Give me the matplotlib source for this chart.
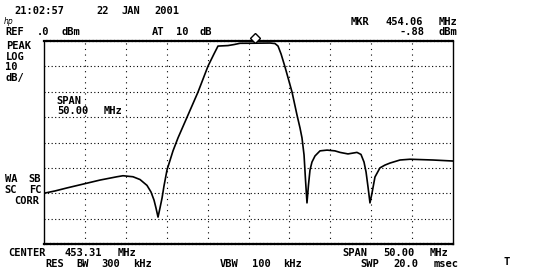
import matplotlib
matplotlib.use("Agg")
import matplotlib.pyplot as plt
import matplotlib.transforms as mtransforms

center_mhz = 453.31
span_mhz = 50.0
ref_dbm = 0.0
db_per_div = 10
n_ydiv = 8
mkr_freq = 454.06
mkr_level = -0.88

freq_mhz = [428.31, 429.65, 431.12, 433.08, 435.16, 437.23, 437.97, 439.19, 440.05, 440.90,
            441.39, 441.76, 442.00, 442.25, 442.49, 442.74, 442.98, 443.35, 444.08, 444.69,
            445.91, 447.14, 448.36, 449.09, 449.58, 450.80, 451.54, 452.27, 454.10, 455.94,
            456.55, 456.92, 457.29, 457.77, 458.63, 459.24, 459.61, 459.85, 460.10, 460.28,
            460.46, 460.64, 460.83, 461.07, 461.44, 462.05, 462.91, 463.88, 464.50, 465.47,
            466.57, 467.06, 467.43, 467.68, 467.92, 468.16, 468.41, 468.77, 469.38, 469.99,
            470.61, 471.83, 473.05, 475.86, 478.31]
level_dbm = [-60.0, -59.1, -57.9, -56.4, -54.8, -53.5, -53.1, -53.5, -54.6, -56.9,
             -59.5, -62.7, -65.8, -69.4, -65.8, -61.9, -57.1, -50.8, -43.3, -38.2,
             -29.2, -20.1, -9.9, -5.1, -2.0, -1.8, -1.4, -0.9, -0.87, -0.8,
             -1.0, -2.0, -5.1, -10.2, -20.1, -29.2, -34.3, -38.2, -44.9, -54.8,
             -63.8, -56.8, -50.8, -47.7, -45.3, -43.3, -43.0, -43.3, -43.9, -44.5,
             -43.9, -44.7, -47.7, -51.6, -57.5, -63.8, -59.9, -53.6, -50.0, -48.9,
             -48.1, -46.9, -46.6, -46.9, -47.3]

W, H = 533, 271
fig = plt.figure(figsize=(W / 100, H / 100), dpi=100)
fig.patch.set_facecolor("white")

L, R, T, B = 44, 453, 41, 244
ax = fig.add_axes([L / W, (H - B) / H, (R - L) / W, (B - T) / H])
ax.set_facecolor("white")

f0 = center_mhz - span_mhz / 2
f1 = center_mhz + span_mhz / 2
y0 = ref_dbm - db_per_div * n_ydiv
ax.set_xlim(f0, f1)
ax.set_ylim(y0, ref_dbm)

# graticule
for k in range(1, 10):
    ax.axvline(f0 + k * span_mhz / 10, color="black", lw=0.8,
               linestyle=(0, (1, 4)), zorder=1)
for k in range(1, n_ydiv):
    ax.axhline(ref_dbm - k * db_per_div, color="black", lw=0.8,
               linestyle=(0, (1, 2.2)), zorder=1)
ax.set_xticks([])
ax.set_yticks([])
for s in ["left", "right"]:
    ax.spines[s].set_linewidth(1.0)
for s in ["top", "bottom"]:
    ax.spines[s].set_linewidth(1.6)
    ax.spines[s].set_linestyle((0, (1, 0.6)))

# trace
ax.plot(freq_mhz, level_dbm, color="black", lw=1.2, zorder=3, solid_joinstyle="round")

# marker diamond (drawn just above the trace point)
ax.plot([mkr_freq], [mkr_level], marker="D", markersize=5.5, markerfacecolor="white",
        markeredgecolor="black", markeredgewidth=1.0, clip_on=False, zorder=4,
        transform=ax.transData + mtransforms.ScaledTranslation(0, 5.5 / 100, fig.dpi_scale_trans))

FS = 7.5
FONT = "DejaVu Sans Mono"
PITCH = 8.0  # screen character pitch in pixels


def txt(s, x, yc, ha="left"):
    """Place a label on the analyzer's fixed character grid, word by word."""
    if ha == "right":
        x = x - len(s) * PITCH
    i = 0
    for word in s.split(" "):
        if word:
            xc = x + (i + len(word) / 2) * PITCH
            fig.text(xc / W, 1 - (yc + 3.8) / H, word, ha="center", va="baseline",
                     fontsize=FS, family=FONT, weight="bold", color="black")
        i += len(word) + 1


txt("21:02:57   22 JAN 2001", 7, 10)
txt("REF .0 dBm", 3, 31)
txt("AT 10 dB", 150, 31)
txt("PEAK", 3, 45)
txt("LOG", 3, 55.8)
txt("10", 3, 66.4)
txt("dB/", 3, 77)
txt("SPAN", 53, 100)
txt("50.00 MHz", 53, 110.6)
txt("MKR 454.06 MHz", 460, 21, ha="right")
txt("-.88 dBm", 460, 31.6, ha="right")
txt("WA SB", 3, 178.6)
txt("SC FC", 3, 189.2)
txt("CORR", 11, 199.8)
txt("CENTER 453.31 MHz", 3, 252)
txt("RES BW 300 kHz", 43, 263)
txt("VBW 100 kHz", 217, 263)
txt("SPAN 50.00 MHz", 451, 252, ha="right")
txt("SWP 20.0 msec", 462, 263, ha="right")
txt("T", 503, 261)
fig.text(4 / W, 1 - 23.5 / H, "hp", fontsize=5.5, style="italic", family="DejaVu Sans",
         color="black")

fig.savefig("out.png", dpi=100)
